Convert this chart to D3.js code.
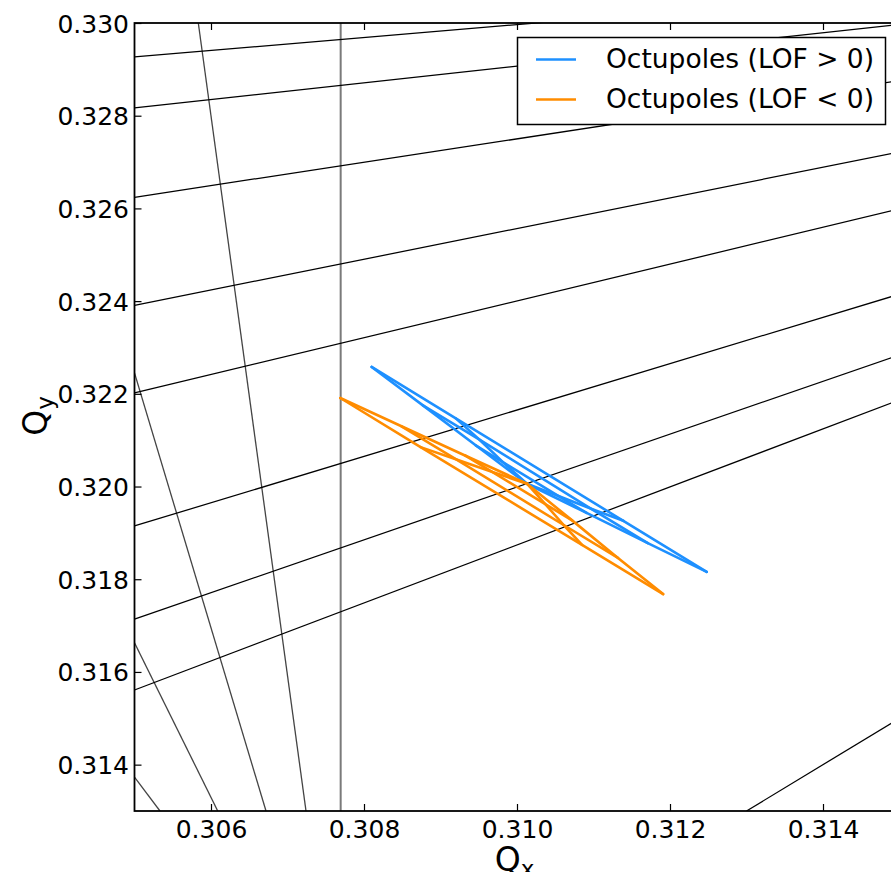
<!DOCTYPE html>
<html>
<head>
<meta charset="utf-8">
<script src="https://cdn.jsdelivr.net/npm/d3@7"></script>
<style>
  body { margin: 0; background: #ffffff; }
  svg { display: block; font-family: "DejaVu Sans", sans-serif; }
</style>
</head>
<body>
<svg id="chart" width="891" height="872"></svg>
<script>
// Tune diagram: resonance lines and amplitude-detuning footprints (Qx, Qy)

const xDomain = [0.305, 0.315];
const yDomain = [0.313, 0.330];
const xTickValues = [0.306, 0.308, 0.310, 0.312, 0.314];
const yTickValues = [0.314, 0.316, 0.318, 0.320, 0.322, 0.324, 0.326, 0.328, 0.330];

// Resonance lines, each as two tune points [Qx, Qy]
const shallowResonances = [
  [[0.305, 0.32927], [0.315, 0.33066]],
  [[0.305, 0.32817], [0.315, 0.32997]],
  [[0.305, 0.32624], [0.315, 0.32876]],
  [[0.305, 0.32391], [0.315, 0.32722]],
  [[0.305, 0.32202], [0.315, 0.32599]],
  [[0.305, 0.31915], [0.315, 0.32415]],
  [[0.305, 0.31714], [0.315, 0.32284]],
  [[0.305, 0.31561], [0.315, 0.32187]],
  [[0.313, 0.313],   [0.315, 0.315]]
];
const steepResonances = [
  [[0.305834, 0.330],  [0.307242, 0.313]],
  [[0.305,    0.32245],[0.306719, 0.313]],
  [[0.305,    0.31663],[0.306088, 0.313]],
  [[0.305,    0.31373],[0.305333, 0.313]]
];
const verticalResonances = [
  [[0.307695, 0.313], [0.307695, 0.330]]
];

// Footprints: zero-amplitude tune plus rings of tunes at growing amplitude,
// each ring listed from one plane's direction to the other's.
const positiveLofCenter = [0.31013, 0.32006];
const positiveLofRings = [
  [[0.31091, 0.31943], [0.31055, 0.31979], [0.30982, 0.32052], [0.30946, 0.32089]],
  [[0.31171, 0.31878], [0.31097, 0.31952], [0.30951, 0.32101], [0.30877, 0.32175]],
  [[0.31248, 0.31816], [0.31139, 0.31926], [0.30920, 0.32147], [0.30810, 0.32258]]
];
const negativeLofCenter = [0.31013, 0.32006];
const negativeLofRings = [
  [[0.30932, 0.32067], [0.30967, 0.32032], [0.31037, 0.31962], [0.31072, 0.31927]],
  [[0.30849, 0.32130], [0.30920, 0.32059], [0.31061, 0.31917], [0.31132, 0.31846]],
  [[0.30769, 0.32191], [0.30874, 0.32085], [0.31085, 0.31874], [0.31191, 0.31768]]
];

const seriesNames = ["Octupoles (LOF > 0)", "Octupoles (LOF < 0)"];
const seriesColors = ["#1e90ff", "#ff8c00"];

const svg = d3.select("#chart");
const margin = { left: 134.5, top: 23, right: 899.5, bottom: 811 };

const x = d3.scaleLinear().domain(xDomain).range([margin.left, margin.right]);
const y = d3.scaleLinear().domain(yDomain).range([margin.bottom, margin.top]);

svg.append("defs").append("clipPath").attr("id", "plot-clip")
  .append("rect")
  .attr("x", margin.left).attr("y", margin.top)
  .attr("width", margin.right - margin.left)
  .attr("height", margin.bottom - margin.top);

const plot = svg.append("g").attr("clip-path", "url(#plot-clip)");
const line = d3.line().x(d => x(d[0])).y(d => y(d[1]));

plot.selectAll("path.steep").data(steepResonances).join("path")
  .attr("class", "steep").attr("d", line)
  .attr("fill", "none").attr("stroke", "#444444").attr("stroke-width", 1.3);

plot.selectAll("path.vertical").data(verticalResonances).join("path")
  .attr("class", "vertical").attr("d", line)
  .attr("fill", "none").attr("stroke", "#7a7a7a").attr("stroke-width", 2);

plot.selectAll("path.shallow").data(shallowResonances).join("path")
  .attr("class", "shallow").attr("d", line)
  .attr("fill", "none").attr("stroke", "#000000").attr("stroke-width", 1.25);

// Footprint grid: rings of equal amplitude and rays of equal angle
function footprintPaths(center, rings) {
  const paths = rings.map(r => r);
  const nAngles = rings[0].length;
  for (let k = 0; k < nAngles; k++) {
    paths.push([center].concat(rings.map(r => r[k])));
  }
  return paths;
}

const footprints = [
  footprintPaths(positiveLofCenter, positiveLofRings),
  footprintPaths(negativeLofCenter, negativeLofRings)
];

footprints.forEach((paths, i) => {
  plot.append("g").selectAll("path").data(paths).join("path")
    .attr("d", line)
    .attr("fill", "none")
    .attr("stroke", seriesColors[i])
    .attr("stroke-width", 2.6)
    .attr("stroke-linejoin", "round")
    .attr("stroke-linecap", "round");
});

// Axes with inward ticks on all four sides
const tickLen = 7;
const fontSize = 25;

const bottomAxis = svg.append("g").attr("transform", `translate(0,${margin.bottom})`)
  .call(d3.axisBottom(x).tickValues(xTickValues).tickSize(-tickLen).tickFormat(d3.format(".3f")));
bottomAxis.select(".domain").remove();
bottomAxis.selectAll("line").attr("stroke", "#000").attr("stroke-width", 1.2);
bottomAxis.selectAll("text")
  .attr("y", 26.5).attr("dy", null)
  .attr("font-size", fontSize).attr("fill", "#000")
  .attr("font-family", "DejaVu Sans, sans-serif");

const topAxis = svg.append("g").attr("transform", `translate(0,${margin.top})`)
  .call(d3.axisTop(x).tickValues(xTickValues).tickSize(-tickLen).tickFormat(""));
topAxis.select(".domain").remove();
topAxis.selectAll("line").attr("stroke", "#000").attr("stroke-width", 1.2);

const leftAxis = svg.append("g").attr("transform", `translate(${margin.left},0)`)
  .call(d3.axisLeft(y).tickValues(yTickValues).tickSize(-tickLen).tickFormat(d3.format(".3f")));
leftAxis.select(".domain").remove();
leftAxis.selectAll("line").attr("stroke", "#000").attr("stroke-width", 1.2);
leftAxis.selectAll("text")
  .attr("x", -5.5).attr("dy", "0.36em")
  .attr("font-size", fontSize).attr("fill", "#000")
  .attr("font-family", "DejaVu Sans, sans-serif");

const rightAxis = svg.append("g").attr("transform", `translate(${margin.right},0)`)
  .call(d3.axisRight(y).tickValues(yTickValues).tickSize(-tickLen).tickFormat(""));
rightAxis.select(".domain").remove();
rightAxis.selectAll("line").attr("stroke", "#000").attr("stroke-width", 1.2);

// Frame
svg.append("rect")
  .attr("x", margin.left).attr("y", margin.top)
  .attr("width", margin.right - margin.left)
  .attr("height", margin.bottom - margin.top)
  .attr("fill", "none").attr("stroke", "#000").attr("stroke-width", 1.8);

// Axis titles
const labelSize = 33;
const xLabel = svg.append("text")
  .attr("x", 514.5).attr("y", 871)
  .attr("text-anchor", "middle")
  .attr("font-size", labelSize).attr("fill", "#000");
xLabel.append("tspan").text("Q");
xLabel.append("tspan").attr("font-size", labelSize * 0.7).attr("dy", 6).text("x");

const yLabel = svg.append("text")
  .attr("transform", "translate(46.5,416) rotate(-90)")
  .attr("text-anchor", "middle")
  .attr("font-size", labelSize).attr("fill", "#000");
yLabel.append("tspan").text("Q");
yLabel.append("tspan").attr("font-size", labelSize * 0.7).attr("dy", 6).text("y");

// Legend
const legend = svg.append("g");
legend.append("rect")
  .attr("x", 517.5).attr("y", 37.5).attr("width", 368).attr("height", 87)
  .attr("fill", "#fff").attr("stroke", "#000").attr("stroke-width", 1.5);
seriesNames.forEach((name, i) => {
  const cy = 59.5 + i * 40;
  legend.append("line")
    .attr("x1", 536).attr("x2", 576).attr("y1", cy).attr("y2", cy)
    .attr("stroke", seriesColors[i]).attr("stroke-width", 2.4);
  legend.append("text")
    .attr("x", 606).attr("y", cy + 8.5)
    .attr("font-size", 26.5).attr("fill", "#000")
    .text(name);
});
</script>
</body>
</html>
